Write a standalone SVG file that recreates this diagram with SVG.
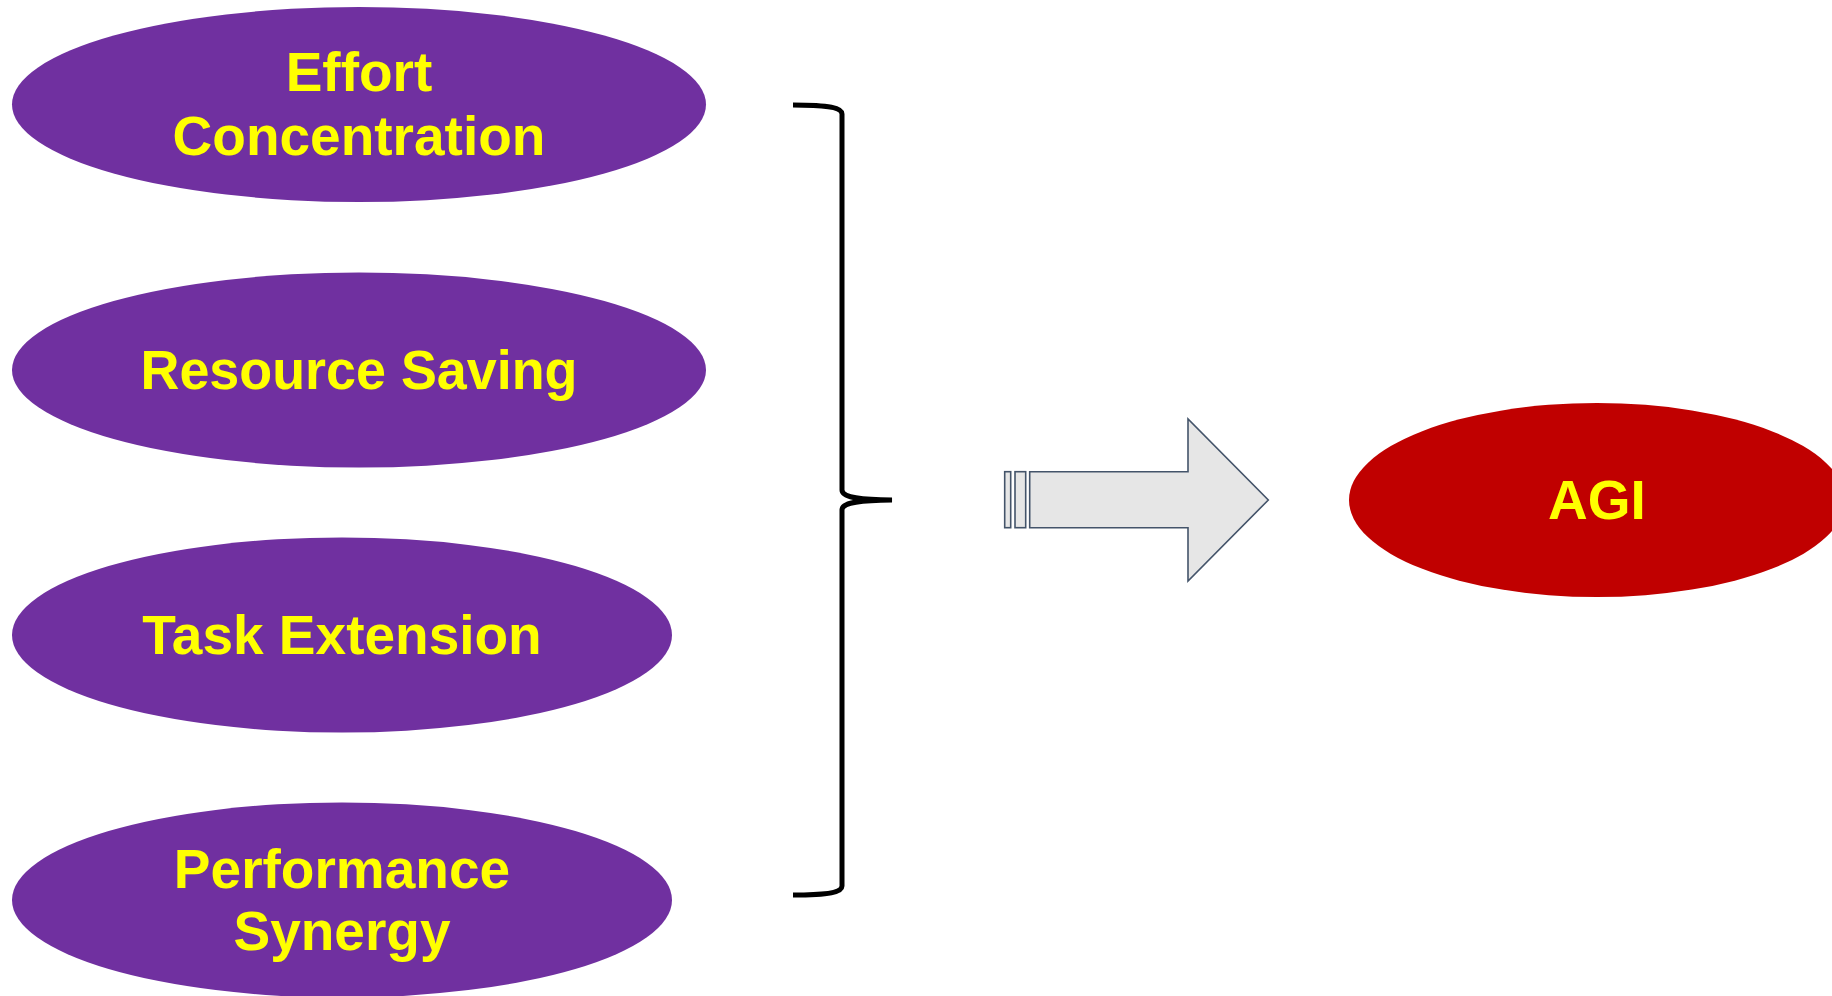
<svg xmlns="http://www.w3.org/2000/svg" width="1832" height="996" viewBox="0 0 1832 996">
  <style>
    .factor { fill: #7030a0; }
    .goal { fill: #c00000; }
    .label { fill: #ffff00; font-family: "Liberation Sans", Arial, sans-serif; font-weight: bold; font-size: 55px; text-anchor: middle; }
    .brace { fill: none; stroke: #000000; stroke-width: 5; stroke-linecap: butt; }
    .arrow { fill: #e6e6e6; stroke: #44546a; stroke-width: 1.6; stroke-linejoin: miter; }
  </style>
  <rect width="1832" height="996" fill="#ffffff"/>

  <g id="effort-concentration">
    <ellipse class="factor" cx="359" cy="104.5" rx="347" ry="97.5"/>
    <text class="label" x="359" y="91">Effort</text>
    <text class="label" x="359" y="155">Concentration</text>
  </g>

  <g id="resource-saving">
    <ellipse class="factor" cx="359" cy="370" rx="347" ry="97.5"/>
    <text class="label" x="359" y="389" textLength="437" lengthAdjust="spacingAndGlyphs">Resource Saving</text>
  </g>

  <g id="task-extension">
    <ellipse class="factor" cx="342" cy="635" rx="330" ry="97.5"/>
    <text class="label" x="342" y="654">Task Extension</text>
  </g>

  <g id="performance-synergy">
    <ellipse class="factor" cx="342" cy="900" rx="330" ry="97.5"/>
    <text class="label" x="342" y="888">Performance</text>
    <text class="label" x="342" y="950">Synergy</text>
  </g>

  <g id="agi">
    <ellipse class="goal" cx="1597" cy="500" rx="248" ry="97"/>
    <text class="label" x="1597" y="519">AGI</text>
  </g>

  <g id="connectors">
    <!-- curly brace gathering the four factors -->
    <path class="brace" d="M 793 105 C 830 105 842 108 842 114 L 842 490 C 842 497 856 499.5 892 500 C 856 500.5 842 503 842 510 L 842 886 C 842 892 830 895 793 895"/>
    <!-- striped block arrow -->
    <rect class="arrow" x="1004.7" y="471.7" width="6" height="56"/>
    <rect class="arrow" x="1015" y="471.7" width="10.7" height="56"/>
    <path class="arrow" d="M 1029.7 471.7 L 1188 471.7 L 1188 419 L 1268.3 500 L 1188 581 L 1188 527.7 L 1029.7 527.7 Z"/>
  </g>
</svg>
